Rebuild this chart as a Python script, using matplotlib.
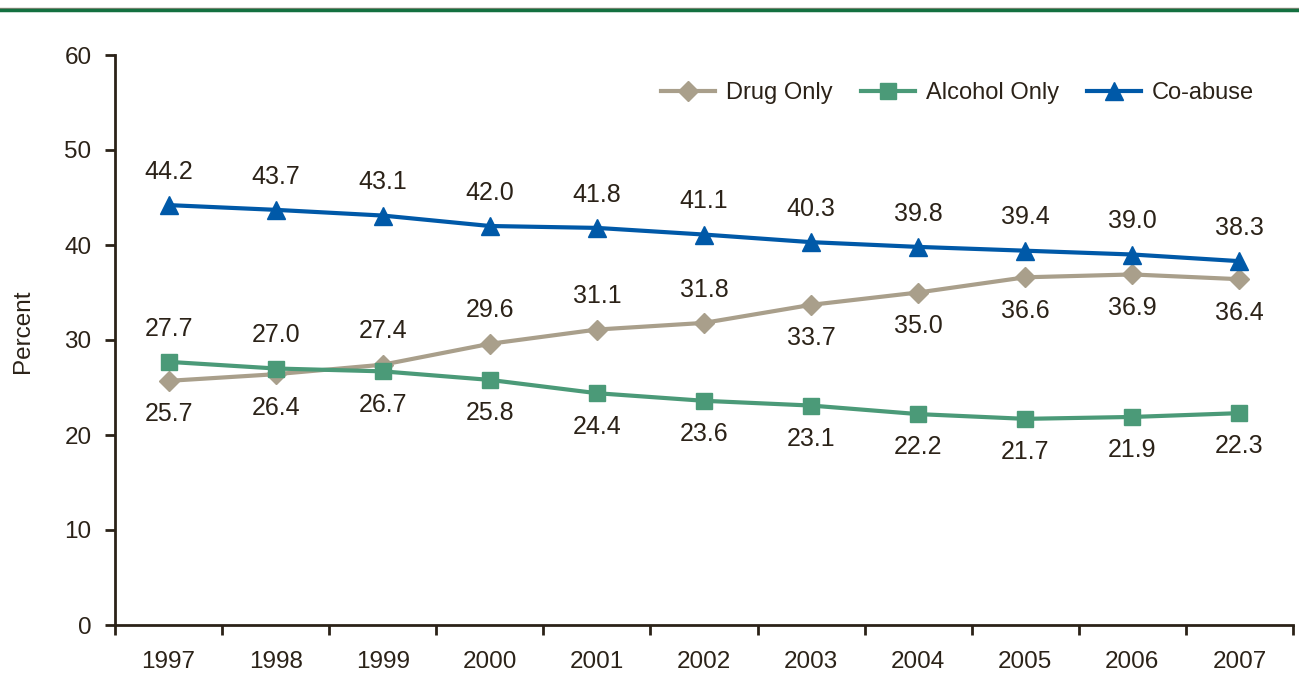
import matplotlib

matplotlib.use("Agg")
import matplotlib.pyplot as plt
from matplotlib.lines import Line2D

years = ["1997", "1998", "1999", "2000", "2001", "2002", "2003", "2004", "2005", "2006", "2007"]
drug_only = [25.7, 26.4, 27.4, 29.6, 31.1, 31.8, 33.7, 35.0, 36.6, 36.9, 36.4]
alcohol_only = [27.7, 27.0, 26.7, 25.8, 24.4, 23.6, 23.1, 22.2, 21.7, 21.9, 22.3]
co_abuse = [44.2, 43.7, 43.1, 42.0, 41.8, 41.1, 40.3, 39.8, 39.4, 39.0, 38.3]

# which side of the point each value label sits on (+1 above, -1 below)
drug_side = [-1, -1, 1, 1, 1, 1, -1, -1, -1, -1, -1]
alcohol_side = [1, 1, -1, -1, -1, -1, -1, -1, -1, -1, -1]
co_side = [1] * 11

TEXT = "#2b2218"
FS = 17.5
plt.rcParams["font.family"] = ["Liberation Sans", "DejaVu Sans"]
plt.rcParams["text.color"] = TEXT
plt.rcParams["axes.labelcolor"] = TEXT
plt.rcParams["xtick.color"] = TEXT
plt.rcParams["ytick.color"] = TEXT

fig = plt.figure(figsize=(12.99, 6.73), dpi=100)
ax = fig.add_axes([115 / 1299, 1 - 625 / 673, (1293 - 115) / 1299, (625 - 55) / 673])

x = list(range(len(years)))
series = [
    ("Drug Only", drug_only, drug_side, "#a99f8b", "D", 10),
    ("Alcohol Only", alcohol_only, alcohol_side, "#4b9a78", "s", 11),
    ("Co-abuse", co_abuse, co_side, "#0059a8", "^", 13),
]
for name, vals, sides, color, marker, ms in series:
    ax.plot(x, vals, color=color, lw=3, marker=marker, markersize=ms,
            markeredgecolor=color, label=name, clip_on=False)
    for xi, v, s in zip(x, vals, sides):
        ax.annotate(f"{v:.1f}", (xi, v), xytext=(0, 24 * s), textcoords="offset points",
                    ha="center", va="center", fontsize=18, color=TEXT)

ax.set_xlim(-0.5, len(years) - 0.5)
ax.set_ylim(0, 60)
ax.set_yticks(range(0, 61, 10))
ax.set_xticks(x)
ax.set_xticklabels(years)
ax.set_xticks([i - 0.5 for i in range(len(years) + 1)], minor=True)
ax.tick_params(axis="x", which="major", length=0, pad=19, labelsize=FS)
ax.tick_params(axis="x", which="minor", length=7, width=2, direction="out")
ax.tick_params(axis="y", length=7, width=2, pad=10, labelsize=FS)
ax.set_ylabel("Percent", fontsize=FS)
ax.yaxis.set_label_coords(-0.069, 0.515)

for side in ("top", "right"):
    ax.spines[side].set_visible(False)
for side in ("left", "bottom"):
    ax.spines[side].set_color(TEXT)
    ax.spines[side].set_linewidth(2)

ax.legend(loc="upper right", bbox_to_anchor=(0.985, 0.99), ncol=3, frameon=False,
          fontsize=17, handlelength=2.3, columnspacing=1.2, handletextpad=0.45)

# rule across the top of the page
fig.add_artist(Line2D([0, 1], [1 - 8 / 673] * 2, color="#8f8a7c", lw=1))
fig.add_artist(Line2D([0, 1], [1 - 10 / 673] * 2, color="#137040", lw=2.5))

fig.savefig("out.png", dpi=100)
